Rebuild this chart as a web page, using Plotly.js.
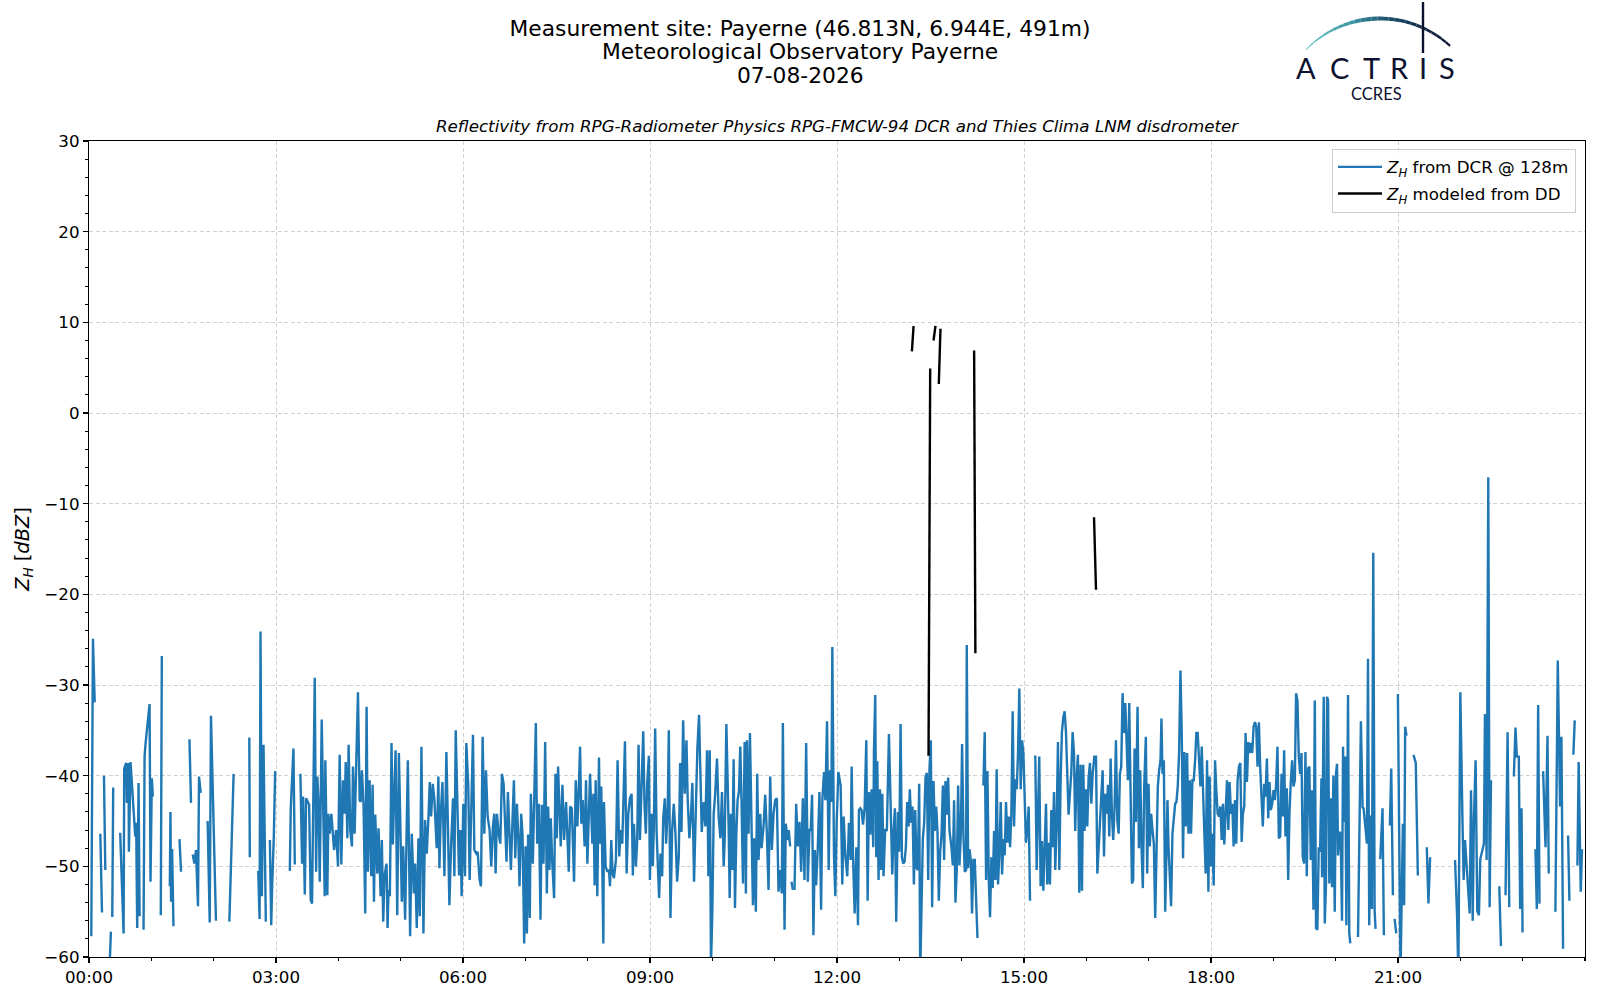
<!DOCTYPE html>
<html>
<head>
<meta charset="utf-8">
<script src="https://cdn.plot.ly/plotly-3.0.1.min.js"></script>
<style>html,body{margin:0;padding:0;background:#fff;}#chart{width:1600px;height:1000px;}</style>
</head>
<body>
<div id="chart"></div>
<script>
// ---- DATA (time in minutes after 00:00 UTC, reflectivity in dBZ; null = missing) ----
const dcr00to04 = [[2.2,-57.7],[3.8,-24.9],[5.5,-31.9],[8,null],
[10.9,-46.4],[12.5,-55.1],[13.5,null],[14.4,-40.0],[15.7,-50.4],[17,null],
[19.5,-62],[21.1,-57.2],[21.8,null],[22.4,-55.6],[23.3,-41.3],[26,null],
[30,-46.3],[33.3,-57.4],[33.9,-39.2],[35.8,-38.6],[36.5,-43.0],[38.1,-38.6],[38.4,-48.4],[40,-38.5],[44.5,-46.7],[45.4,-45.2],[46.4,-56.8],[47.7,-40.8],[48.7,-55.5],[50,null],
[52.5,-57.0],[53.5,-37.9],[54.4,-36.5],[58.3,-32.1],[59.2,-51.7],[60.5,-40.3],[61.4,-42.3],[64,null],
[69.1,-55.4],[70.1,-26.8],[72,null],
[77.8,-52.2],[78.4,-44.0],[79,-53.9],[80,-48.1],[81.3,-56.6],[84,null],
[87.1,-47.0],[88.6,-50.6],[92,null],
[96.7,-36.0],[98.2,-43.0],[99,null],
[99.8,-48.7],[101.5,-49.7],[103,-48.2],[104.9,-54.4],[105.9,-40.1],[107.5,-41.9],[110,null],
[114.2,-45.0],[116.2,-56.2],[117.4,-33.4],[121.3,-49.6],[122.2,-56.0],[128,null],
[135.1,-56.1],[139.2,-39.8],[145,null],
[154.3,-35.8],[154.8,-49.0],[158,null],
[162.9,-50.5],[164.2,-55.8],[165.1,-24.1],[166.4,-53.3],[168,-36.6],[170.2,-56.1],[172,null],
[174.1,-47.1],[175.4,-56.5],[176.3,-52.1],[177.9,-46.7],[179.2,-39.5],[185,null],
[193.3,-50.5],[194.2,-43.7],[196.8,-37.0],[198.1,-49.8],[200,null],
[203.5,-39.8],[205.1,-49.7],[206.1,-42.3],[207.7,-53.1],[209,-42.5],[211.9,-43.2],[213.4,-53.7],[214.7,-54.1],[217.3,-29.2],[218.6,-50.6],[219.8,-40.1],[221.1,-43.6],[222.1,-51.7],[224,-33.8],[226.9,-53.3],[227.5,-38.3],[229.4,-53.2],[230.4,-44.2],[231.7,-46.4],
[233.3,-44.2],[235.9,-48.2],[237.8,-46.0],[239.7,-50.0]];

const dcr04to08 = [[241.3,-37.7],[242.9,-49.8],[244.5,-40.5],[246.1,-44.2],[247.1,-38.5],[248.7,-46.9],[249.9,-36.6],[251.5,-46.0],[253.1,-47.8],[254.1,-39.0],[255.7,-46.4],[257.3,-38.3],[258.9,-30.8],[260.5,-42.7],[261.5,-42.9],[262.7,-39.4],[264.3,-43.4],[265.9,-55.2],[267.2,-32.4],[268.5,-50.6],[270.1,-40.5],[271.7,-51.1],[273,-41.0],[274.3,-53.9],[275.5,-44.3],[277.5,-50.8],[278.7,-45.8],[280.7,-53.3],[281.9,-47.1],[283.2,-56.1],[284.5,-51.0],[286.4,-49.7],[287.4,-56.8],[288.3,-52.6],[289.6,-53.3],[291.2,-36.4],[292.5,-47.6],[293.5,-43.2],[295.1,-37.2],[296.7,-55.4],[298.3,-37.5],[299.5,-44.3],[301.1,-53.9],[302.4,-47.8],[304.3,-55.9],[306.9,-38.3],[309.1,-57.7],[310.7,-46.4],[312.7,-53.0],[313.9,-49.7],[315.5,-56.8],[317.1,-46.9],[318.4,-55.5],[320,-36.8],[321.9,-57.4],[323.5,-44.9],[325.1,-48.6],[326.7,-44.7],[328,-40.7],[329.3,-44.5],[330.9,-40.9],[332.5,-42.7],[334.7,-48.0],[336.3,-40.1],[337.3,-50.2],[338.6,-44.2],[340.2,-40.7],[342.1,-51.1],[344,-37.4],[345.3,-44.5],[346.9,-54.3],[348.5,-47.8],[350.4,-42.5],[351.7,-51.1],[353,-35.0],[354.6,-43.1],[356.2,-51.0],[357.5,-46.0],[358.7,-53.3],[360.3,-43.1],[361.9,-51.1],[363.2,-36.4],[365.1,-41.2],[366.4,-51.5],[367.7,-44.2],[369.6,-35.5],[370.9,-48.2],[372.8,-48.6],[374.1,-48.4],[376,-51.5],[377.3,-52.2],[378.9,-35.7],[380.5,-46.4],[382.1,-39.4],[383.7,-44.5],[385.6,-46.0],[387.2,-50.0],[388.8,-45.6],[390.1,-44.2],[391.4,-50.8],[392.7,-44.2],[394.3,-46.4],[395.9,-47.5],[397.5,-39.8],[399.1,-40.9],[400.3,-44.2],[401.9,-49.5],[403.2,-41.8],[404.8,-46.0],[406.1,-50.4],[407.7,-44.7],[409,-40.5],[410.3,-49.1],[411.9,-43.1],[413.1,-46.4],[414.4,-52.2],[416,-44.2],[417.3,-46.5],[418.9,-58.5],[420.2,-47.8],[421.5,-57.4],[422.7,-46.5],[424.3,-55.7],[425.3,-42.0],[427.2,-49.7],[428.5,-43.1],[430.1,-34.2],[431.4,-47.5],[433,-43.1],[434.6,-55.9],[435.9,-43.2],[437.5,-49.7],[439.1,-36.3],[440.7,-53.0],[442,-43.4],[443.2,-50.4],[444.5,-44.7],[445.8,-49.3],[447.7,-53.5],[449,-39.8],[450.3,-46.9],[451.5,-39.0],[452.8,-42.7],[454.1,-47.8],[455.7,-41.0],[457.3,-47.1],[459.2,-42.9],[460.5,-47.6],[461.8,-50.6],[463.1,-43.4],[464.7,-43.6],[465.9,-47.8],[466.9,-51.7],[468.5,-40.5],[470.1,-45.6],[471.7,-40.5],[472.7,-36.8],[473.9,-45.3],[475.2,-42.7],[477.1,-47.8],[478.4,-40.5]];

const dcr08to12 = [[479.7,-49.7],[481,-45.6],[482.3,-39.8],[484.5,-47.5],[485.5,-42.0],[486.7,-52.1],[487.7,-40.5],[489.3,-53.3],[490.9,-38.0],[491.9,-47.5],[493.1,-41.2],[495.1,-58.5],[495.7,-42.9],[497.3,-50.0],[498.9,-50.6],[500.5,-50.4],[501.5,-52.2],[502.7,-47.1],[504,-50.8],[505.3,-51.3],[507.2,-49.3],[508.8,-38.3],[510.4,-48.9],[511.7,-46.0],[513.3,-47.5],[515.9,-36.2],[517.5,-50.8],[519.1,-44.2],[520.7,-42.5],[522.3,-42.0],[523.5,-51.0],[524.5,-45.3],[526.4,-50.0],[527.7,-47.1],[529,-36.6],[530.3,-47.1],[531.5,-41.4],[533.5,-35.1],[534.7,-43.2],[536,-46.4],[537.3,-40.9],[538.9,-37.8],[539.9,-51.5],[541.5,-44.2],[542.7,-50.0],[543.7,-45.6],[545,-34.8],[546.3,-46.0],[547.5,-49.7],[548.8,-53.5],[550.1,-48.6],[551.7,-51.1],[552.7,-44.7],[554.3,-42.5],[555.5,-47.5],[557.1,-43.4],[558.1,-35.0],[559.7,-55.7],[561.3,-46.0],[562.9,-43.1],[564.5,-46.4],[566.1,-51.7],[567.7,-48.9],[569,-38.6],[570.3,-46.2],[571.9,-33.9],[573.5,-42.0],[575.1,-36.1],[576.3,-42.7],[577.9,-46.9],[579.5,-44.2],[580.8,-40.8],[582.4,-51.7],[584,-43.1],[585.6,-37.0],[587.2,-33.3],[588.5,-39.4],[589.8,-46.2],[591.7,-42.9],[593.3,-45.6],[594.9,-37.2],[596.2,-51.1],[597.5,-37.2],[598.7,-61],[600,-55.0],[601.3,-44.2],[602.6,-42.3],[604.5,-38.1],[606.1,-44.5],[607.7,-46.9],[609.3,-41.8],[610.9,-50.0],[611.9,-47.1],[613.5,-34.3],[615.7,-45.6],[616.7,-53.5],[617.9,-44.2],[619.2,-50.4],[620.5,-38.2],[621.8,-54.6],[623.1,-46.4],[624.3,-42.7],[625.6,-41.8],[626.9,-36.8],[628.2,-43.4],[629.5,-51.9],[631.1,-36.3],[632.3,-53.0],[633.3,-36.1],[634.9,-46.4],[636.2,-35.3],[637.8,-47.1],[639.1,-54.3],[640.3,-46.9],[641.9,-55.0],[643.2,-39.8],[644.5,-49.3],[646.1,-44.2],[647.4,-48.0],[649.3,-45.6],[650.9,-42.1],[652.5,-46.4],[654.1,-52.6],[655.7,-40.1],[657.3,-48.2],[658.9,-44.2],[660.5,-42.7],[662.1,-42.5],[663.7,-52.8],[665.3,-50.4],[666.9,-53.0],[667.9,-34.2],[669.5,-57.0],[670.7,-45.3],[672.3,-47.1],[673.6,-46.0],[674.9,-47.8],[675.5,null],[676.2,-51.7],[677.5,-52.6],[678.3,null],[679.1,-52.6],[680.7,-43.1],[682.3,-47.8],[683.9,-45.1],[685.5,-50.6],[687.1,-42.5],[688.7,-51.5],[690.3,-36.4],[691.9,-51.7],[693.5,-46.0],[694.7,-46.0],[696,-42.1],[697.3,-57.6],[698.6,-48.2],[699.9,-52.1],[701.5,-48.0],[703.1,-41.8],[704.7,-54.8],[705.9,-42.7],[707.5,-39.6],[708.8,-42.7],[710.4,-34.0],[712,-50.4],[713.3,-39.4],[714.6,-42.9],[715.5,-25.8],[717.1,-48.9],[718.4,-53.3],[719.7,-45.1]];

const dcr12to16 = [[721.3,-39.6],[723.5,-41.1],[725.1,-52.0],[726.4,-44.5],[728,-48.8],[729.9,-51.1],[731.5,-45.2],[733.1,-49.3],[734.1,-39.0],[735.4,-48.8],[737,-55.2],[738.6,-47.9],[740.2,-56.5],[741.1,-43.8],[742.4,-43.6],[743.7,-43.8],[745,-45.4],[746.6,-43.6],[748.2,-36.1],[749.5,-53.8],[750.7,-41.8],[752,-46.5],[753.3,-41.5],[754.9,-47.9],[755.6,-37.2],[756.8,-31.1],[757.8,-49.0],[758.8,-38.4],[760,-51.5],[761.3,-41.5],[762.6,-50.4],[763.6,-42.0],[764.8,-51.1],[766.4,-45.9],[768,-46.1],[770,-35.4],[771.9,-46.1],[773.2,-50.9],[774.5,-46.1],[775.7,-43.6],[777,-56.1],[778.6,-44.0],[779.9,-48.4],[781.2,-34.3],[782.5,-49.0],[783.7,-49.7],[785,-49.5],[786.3,-47.9],[787.6,-42.9],[788.9,-45.6],[790.1,-41.5],[791.4,-45.2],[792.7,-43.4],[794,-52.0],[795.3,-43.8],[796.6,-50.2],[797.8,-50.4],[799.1,-40.9],[800.1,-62],[801.4,-53.8],[802.6,-47.0],[803.9,-45.2],[805.2,-40.2],[806.5,-39.7],[807.8,-51.5],[809,-39.3],[810.3,-36.1],[811.6,-54.5],[812.9,-40.6],[814.2,-46.1],[815.5,-43.4],[816.7,-46.1],[818,-53.8],[819.3,-48.4],[820.6,-46.5],[821.9,-41.1],[823.1,-49.3],[824.4,-40.6],[825.7,-44.3],[827,-40.2],[828.3,-46.1],[830.2,-47.9],[831.5,-49.9],[832.7,-42.7],[834,-54.0],[835.3,-50.4],[836.6,-41.1],[837.9,-49.9],[839.2,-46.5],[840.4,-36.5],[841.7,-46.5],[843,-50.6],[844.3,-50.4],[844.9,-25.6],[846.2,-50.2],[847.5,-48.1],[848.8,-49.3],[850,-55.2],[851.3,-49.3],[852.6,-49.3],[853.9,-52.9],[855.2,-57.9],[858,null],
[860.9,-41.1],[862.2,-35.2],[863.5,-51.5],[864.8,-39.5],[866.1,-51.5],[867.3,-55.6],[868.6,-49.0],[869.9,-52.4],[871.2,-46.1],[872.5,-51.5],[873.7,-39.3],[875,-52.0],[876.3,-48.4],[877.6,-42.9],[878.9,-50.9],[880.2,-47.0],[881.4,-48.8],[882.7,-42.9],[884,-47.4],[885.3,-44.5],[886.6,-47.9],[887.8,-44.3],[889.1,-32.9],[890.4,-45.6],[891.7,-40.4],[893,-41.5],[894.2,-37.7],[895.5,-30.4],[896.8,-41.5],[898.1,-36.1],[899.4,-37.5],[900.7,-44.3],[901.9,-47.4],[903.2,-45.9],[904.5,-43.4],[905.8,-53.8],[907.5,null],
[909.6,-37.9],[910.9,-37.9],[912.2,-50.4],[913.5,-43.1],[914.7,-37.9],[916,-52.2],[917.3,-47.2],[918.6,-52.7],[919.9,-48.1],[921.2,-43.1],[922.4,-52.0],[923.7,-47.4],[925,-52.0],[926.3,-43.8],[927.6,-47.9],[928.9,-41.8],[930.1,-50.4],[931.4,-45.2],[932.7,-36.3],[934,-50.4],[935.3,-40.2],[936.5,-35.2],[937.8,-33.6],[939.1,-32.9],[940.4,-35.2],[941.7,-41.1],[942.9,-44.3],[944.2,-42.0],[945.5,-39.7],[946.8,-35.2],[948.1,-37.5],[949.3,-46.1],[950.6,-40.2],[951.9,-37.7],[953.2,-52.9],[954.5,-38.8],[955.8,-52.7],[957,-38.8],[958.3,-46.1]];

const dcr16to20 = [[959.6,-41.5],[960.9,-45.6],[962.2,-40.2],[963.5,-38.6],[964.8,-43.1],[966.1,-39.8],[967.7,-37.9],[969.3,-37.9],[970.6,-50.8],[971.9,-47.5],[973.1,-46.0],[974.4,-40.9],[975.7,-39.4],[977,-48.9],[978.3,-42.0],[979.5,-44.2],[980.8,-41.0],[982.1,-46.7],[983.4,-38.1],[984.7,-44.5],[985.9,-47.1],[987.2,-43.4],[988.5,-36.1],[989.8,-44.9],[991.1,-46.4],[992.3,-39.8],[993.6,-39.0],[994.9,-30.9],[996.2,-35.3],[997.5,-32.0],[998.7,-35.3],[1000,-40.5],[1001.3,-32.0],[1002.6,-44.9],[1003.9,-51.9],[1005.1,-51.5],[1006.4,-37.0],[1007.7,-45.1],[1009.3,-32.4],[1010.6,-48.0],[1011.9,-39.4],[1013.1,-47.8],[1014.4,-52.4],[1015.7,-41.2],[1017.3,-35.7],[1018.6,-50.8],[1019.9,-40.9],[1021.1,-47.8],[1022.4,-44.2],[1023.7,-46.0],[1025,-47.5],[1026.3,-55.7],[1027.5,-47.5],[1028.8,-41.2],[1030.1,-39.4],[1031.4,-38.3],[1032.3,-33.7],[1033.3,-39.8],[1034.6,-38.3],[1035.9,-55.0],[1037.1,-48.6],[1038.1,-42.7],[1039.1,-47.8],[1040.3,-51.9],[1041.6,-54.4],[1042.9,-46.4],[1044.2,-44.2],[1045.5,-43.1],[1046.7,-42.9],[1048,-41.2],[1049.3,-37.4],[1050.6,-28.4],[1051.9,-35.7],[1053.1,-49.1],[1054.4,-37.4],[1055.7,-45.6],[1057,-37.5],[1058.3,-46.4],[1059.5,-40.5],[1060.8,-46.4],[1062.1,-40.5],[1063.4,-40.5],[1064.7,-38.3],[1065.9,-35.3],[1067.2,-35.3],[1068.5,-39.0],[1069.8,-41.2],[1071.1,-36.8],[1072.3,-40.5],[1073.6,-46.4],[1074.9,-50.8],[1076.2,-38.3],[1077.5,-52.8],[1078.7,-40.1],[1080,-50.0],[1081.3,-46.4],[1082.6,-52.1],[1083.9,-38.3],[1085.1,-41.6],[1086.4,-44.2],[1087.7,-44.5],[1089,-43.4],[1090.3,-47.1],[1091.5,-43.1],[1092.8,-47.6],[1094.1,-43.4],[1095.4,-40.5],[1096.7,-46.0],[1097.9,-40.7],[1099.2,-44.2],[1100.5,-43.1],[1101.8,-47.8],[1103.1,-42.7],[1104.3,-47.5],[1105.6,-40.5],[1106.9,-39.0],[1108.2,-38.6],[1109.5,-47.3],[1110.7,-44.2],[1112,-43.4],[1113.3,-35.3],[1114.6,-40.7],[1115.9,-36.3],[1117.1,-37.5],[1118.4,-36.4],[1119.7,-37.5],[1121,-34.6],[1122.3,-34.1],[1123.5,-34.6],[1124.8,-39.0],[1126.1,-34.1],[1127.4,-39.2],[1128.7,-41.8],[1129.9,-45.6],[1131.2,-40.9],[1132.5,-42.3],[1133.8,-38.1],[1135.1,-44.7],[1136.3,-40.7],[1137.6,-43.8],[1138.9,-43.1],[1140.2,-41.6],[1141.5,-42.7],[1142.7,-40.9],[1144,-36.8],[1145.3,-46.9],[1146.6,-46.7],[1147.9,-39.8],[1149.1,-44.5],[1150.4,-37.2],[1151.7,-46.7],[1153,-41.4],[1154.3,-51.5],[1155.5,-44.2],[1156.8,-40.7],[1158.1,-38.3],[1159.4,-41.2],[1160.7,-40.5],[1161.9,-30.9],[1163.2,-31.7],[1164.5,-37.9],[1165.8,-39.8],[1167.1,-37.5],[1168.3,-48.9],[1169.6,-49.7],[1170.9,-37.4],[1172.2,-51.1],[1173.5,-39.2],[1174.7,-39.0],[1176,-49.3],[1177.3,-41.6],[1178.6,-54.8],[1179.9,-31.7],[1181.1,-56.8],[1182.4,-57.0]];

const dcr20to24 = [[1183.7,-47.9],[1185,-48.4],[1186.3,-40.3],[1186.9,-51.2],[1188.5,-31.3],[1189.5,-56.3],[1190.7,-51.9],[1191.7,-31.3],[1192.7,-31.7],[1193.9,-51.9],[1195.2,-42.5],[1196.5,-52.3],[1197.8,-40.0],[1199.1,-55.0],[1200.3,-39.8],[1201.3,-38.7],[1202.3,-48.8],[1203.5,-46.2],[1204.8,-46.4],[1206.1,-56.0],[1207.1,-36.8],[1208.3,-45.1],[1209.3,-37.9],[1210.3,-56.5],[1211.9,-31.1],[1213.1,-57.4],[1214.1,-58.5],[1217,null],
[1221.5,-57.8],[1222.7,-46.8],[1224.3,-34.0],[1225.9,-43.5],[1226.9,-43.6],[1230.1,-47.5],[1231.1,-27.1],[1232.3,-56.5],[1233.6,-44.4],[1234.9,-54.7],[1236.2,-15.4],[1237.5,-54.9],[1238.4,-56.9],[1240,null],
[1242.9,-49.2],[1245.1,-43.6],[1246.4,-57.6],[1249,null],
[1252.2,-45.5],[1253.5,-39.2],[1255.1,-53.2],[1256,null],
[1256.7,-55.8],[1258.3,-57.4],[1259,null],
[1259.9,-31.0],[1261.1,-43.8],[1262.4,-62],[1264.7,-45.3],[1265.9,-54.3],[1266.9,-34.6],[1268.2,-35.6],[1271,null],
[1274.9,-37.7],[1277.1,-38.6],[1279.1,-51.0],[1283,null],
[1287.7,-47.9],[1289.3,-54.1],[1290.9,-49.0],[1300,null],
[1314.9,-49.3],[1316.8,-55.2],[1318.1,-62],[1320,-30.8],[1322,-44.6],[1323.2,-51.5],[1324.5,-47.1],[1329,-55.2],[1330.3,-41.6],[1331.9,-56.0],[1333.1,-44.7],[1334.7,-38.3],[1336.3,-54.9],[1337.9,-55.4],[1339.2,-49.2],[1342.7,-47.5],[1343.7,-33.2],[1345.3,-49.3],[1346.9,-7.1],[1348.2,-54.5],[1349.5,-40.5],[1352,null],
[1357.5,-52.2],[1359.1,-58.8],[1361,null],
[1363.5,-53.2],[1365.5,-35.2],[1367.1,-54.5],[1369,null],
[1371.5,-40.1],[1373.1,-34.7],[1374.4,-37.9],[1376.3,-37.9],[1377.6,-54.7],[1378.9,-43.6],[1379.9,-57.3],[1385,null],
[1392.3,-48.1],[1393.6,-54.7],[1394.9,-32.2],[1396.2,-54.0],[1397.1,-54.0],[1398.5,null],
[1399.7,-39.5],[1402,-47.9],[1403.9,-35.6],[1405.1,-50.8],[1408,null],
[1411.5,-55.0],[1413.8,-27.3],[1416,-43.4],[1417.3,-35.7],[1418.9,-59.1],[1421,null],
[1423.7,-46.6],[1425,-53.8],[1427,null],
[1428.8,-37.7],[1430.1,-33.9],[1431.5,null],
[1432.7,-49.9],[1433.9,-38.5],[1435.9,-52.8],[1437.1,-48.1]];

// disdrometer-modelled reflectivity (short runs separated by missing values)
const ddMinutes = [792.1, 793.7, 795, 808.1, 809.7, 811, 812.9, 814.8, 816, 818.0, 819.6, 830, 852.0, 853.2, 900, 967.4, 969.3];
const ddZh      = [6.8,   9.6,   null, -37.8, 4.9,  null, 8.0,   9.6,   null, 3.2,  9.3,   null, 6.9, -26.5, null, -11.5, -19.5];

const tickMinutes = [0, 180, 360, 540, 720, 900, 1080, 1260];
const tickLabels  = ['00:00','03:00','06:00','09:00','12:00','15:00','18:00','21:00'];

const titleLines = ['Measurement site: Payerne (46.813N, 6.944E, 491m)', 'Meteorological Observatory Payerne', '07-08-2026'];
const subTitle = 'Reflectivity from RPG-Radiometer Physics RPG-FMCW-94 DCR and Thies Clima LNM disdrometer';

// ---- BUILD ----
const dcrAll = [].concat(dcr00to04, dcr04to08, dcr08to12, dcr12to16, dcr16to20, dcr20to24);
const dcrX = dcrAll.map(p => p[0]);
const dcrY = dcrAll.map(p => p[1]);

// pixel -> paper helpers for decorations (plot area L..R x T..B)
const L = 89, R = 1585, T = 141, B = 957;
const px = x => (x - L) / (R - L);
const py = y => (B - y) / (B - T);

const shapes = [];
// ACTRIS logo arc (decoration)
const cx = 1380, cy = 122, rad = 103.5, a0 = -45.6, a1 = 42.6, N = 28;
const stops = [[0,[120,205,200]],[0.35,[55,145,160]],[0.6,[25,70,100]],[1,[13,17,48]]];
function col(t){
  for (let i=0;i<stops.length-1;i++){
    const [t0,c0]=stops[i],[t1,c1]=stops[i+1];
    if (t>=t0 && t<=t1){const f=(t-t0)/(t1-t0);return 'rgb('+c0.map((v,k)=>Math.round(v+(c1[k]-v)*f)).join(',')+')';}
  }
  return 'rgb(13,17,48)';
}
for (let i=0;i<N;i++){
  const t0=i/N, t1=(i+1)/N;
  const th0=(a0+(a1-a0)*t0)*Math.PI/180, th1=(a0+(a1-a0)*t1)*Math.PI/180;
  const x0=cx+rad*Math.sin(th0), y0=cy-rad*Math.cos(th0);
  const x1=cx+rad*Math.sin(th1), y1=cy-rad*Math.cos(th1);
  const tm=(t0+t1)/2;
  const w = tm<0.45 ? 1+tm/0.45*3.2 : 4.2-(tm-0.45)/0.55*2.0;
  shapes.push({type:'line',xref:'paper',yref:'paper',x0:px(x0),y0:py(y0),x1:px(x1),y1:py(y1),
    line:{color:col(tm),width:w}});
}
shapes.push({type:'line',xref:'paper',yref:'paper',x0:px(1423),y0:py(2),x1:px(1423),y1:py(53),line:{color:'#0d1130',width:2.4}});

const letters = ['A','C','T','R','I','S'];
const letterX = [1306, 1339, 1371, 1399, 1423, 1447];
const annotations = [];
letters.forEach((ch,i)=>annotations.push({xref:'paper',yref:'paper',x:px(letterX[i]),y:py(67),text:ch,showarrow:false,
  xanchor:'center',yanchor:'middle',font:{family:'Lato, Roboto, sans-serif',size:29,color:'#0d1130'}}));
annotations.push({xref:'paper',yref:'paper',x:px(1376),y:py(94),text:'CCRES',showarrow:false,xanchor:'center',yanchor:'middle',
  font:{family:'Lato, Roboto, sans-serif',size:16.5,color:'#0d1130'}});
annotations.push({xref:'paper',yref:'paper',x:px(800),y:py(51.5),text:titleLines[1],showarrow:false,xanchor:'center',yanchor:'middle',
  font:{family:'DejaVu Sans',size:21.8,color:'#000'}});
annotations.push({xref:'paper',yref:'paper',x:px(800),y:py(75),text:titleLines[2],showarrow:false,xanchor:'center',yanchor:'middle',
  font:{family:'DejaVu Sans',size:21.8,color:'#000'}});
annotations.push({xref:'paper',yref:'paper',x:0.5,y:py(126),text:'<i>'+subTitle+'</i>',showarrow:false,xanchor:'center',yanchor:'middle',
  font:{family:'DejaVu Sans',size:16.7,color:'#000'}});

const traces = [
  {x:dcrX, y:dcrY, type:'scatter', mode:'lines', name:'<i>Z<sub>H</sub></i> from DCR @ 128m', legendgroup:'a',
   line:{color:'#1f77b4', width:2.4}, connectgaps:false},
  {x:ddMinutes, y:ddZh, type:'scatter', mode:'lines', name:'<i>Z<sub>H</sub></i> modeled from DD', legendgroup:'b',
   line:{color:'#000000', width:2.4}, connectgaps:false}
];

const gridCol = 'rgba(190,190,190,0.7)';
const layout = {
  width:1600, height:1000,
  margin:{l:L, r:1600-R, t:T, b:1000-B},
  paper_bgcolor:'#fff', plot_bgcolor:'#fff',
  font:{family:'DejaVu Sans', size:16.7, color:'#000'},
  title:{text:titleLines[0], x:0.5, xref:'container', xanchor:'center', y:1-28.5/1000, yref:'container', yanchor:'middle',
    font:{family:'DejaVu Sans', size:21.8, color:'#000'}},
  xaxis:{range:[0,1440], tickmode:'array', tickvals:tickMinutes, ticktext:tickLabels,
    ticks:'outside', ticklen:5, tickwidth:1.1, tickcolor:'#000',
    showline:true, linecolor:'#000', linewidth:1.1, mirror:true,
    showgrid:true, gridcolor:gridCol, griddash:'4px,2.5px', gridwidth:1, zeroline:false,
    minor:{tickmode:'linear', tick0:0, dtick:60, ticks:'outside', ticklen:3, tickcolor:'#000', showgrid:false},
    tickfont:{size:16.7}},
  yaxis:{range:[-60,30], tickmode:'linear', tick0:-60, dtick:10,
    ticks:'outside', ticklen:5, tickwidth:1.1, tickcolor:'#000',
    showline:true, linecolor:'#000', linewidth:1.1, mirror:true,
    showgrid:true, gridcolor:gridCol, griddash:'4px,2.5px', gridwidth:1, zeroline:false,
    minor:{tickmode:'linear', tick0:-60, dtick:2, ticks:'outside', ticklen:3, tickcolor:'#000', showgrid:false},
    tickfont:{size:16.7},
    title:{text:'<i>Z<sub>H</sub></i> [<i>dBZ</i>]', font:{size:19.4}, standoff:9}},
  showlegend:true,
  legend:{x:px(1576), xanchor:'right', y:py(148.5), yanchor:'top', bgcolor:'rgba(255,255,255,0.85)',
    bordercolor:'#cccccc', borderwidth:1, font:{size:16.7}, tracegroupgap:2, itemwidth:44},
  shapes:shapes,
  annotations:annotations
};

Plotly.newPlot('chart', traces, layout, {staticPlot:true, displayModeBar:false});
</script>
</body>
</html>
